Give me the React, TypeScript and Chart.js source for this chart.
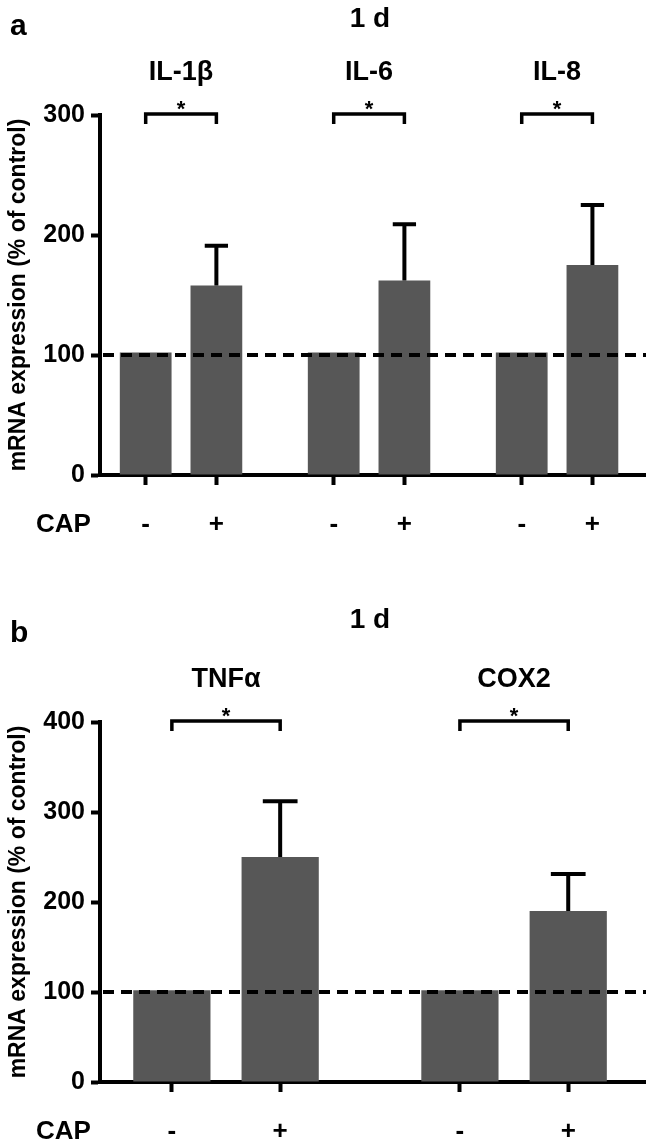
import React, { useEffect, useRef } from "react";
import { Chart, registerables } from "chart.js";

Chart.register(...registerables);

// ---------------- data ----------------
const yAxisTitle = "mRNA expression (% of control)";
const panelTitle = "1 d";
const treatmentLabel = "CAP";
const treatmentTicks = ["-", "+"];
const sigMark = "*";
const baselineValue = 100;

const lettersAB = ["a", "b"];

const genesA = ["IL-1β", "IL-6", "IL-8"];
const controlA = [102, 102, 102];
const capA = [158, 162, 175];
const capErrA = [33, 47, 50];
const yTicksA = [0, 100, 200, 300];

const genesB = ["TNFα", "COX2"];
const controlB = [102, 102];
const capB = [250, 190];
const capErrB = [62, 41];
const yTicksB = [0, 100, 200, 300, 400];

// ---------------- styling / layout ----------------
const FONT = "'Liberation Sans', Arial, Helvetica, sans-serif";
const BAR = "#575757";
const W = 646;
const AXIS_X = 100;
const OFFSET = 0.188;

type Panel = {
  letter: string;
  genes: string[];
  control: number[];
  cap: number[];
  capErr: number[];
  yTicks: number[];
  top: number;
  height: number;
  areaTop: number;
  areaBottom: number;
  xMin: number;
  xMax: number;
  barPct: number;
  titleBase: number;
  letterBase: number;
};

const panels: Panel[] = [
  {
    letter: lettersAB[0],
    genes: genesA,
    control: controlA,
    cap: capA,
    capErr: capErrA,
    yTicks: yTicksA,
    top: 0,
    height: 560,
    areaTop: 115,
    areaBottom: 475,
    xMin: -0.431,
    xMax: 2.473,
    barPct: 0.732,
    titleBase: 27,
    letterBase: 35,
  },
  {
    letter: lettersAB[1],
    genes: genesB,
    control: controlB,
    cap: capB,
    capErr: capErrB,
    yTicks: yTicksB,
    top: 560,
    height: 585,
    areaTop: 162,
    areaBottom: 522,
    xMin: -0.4375,
    xMax: 1.458,
    barPct: 0.713,
    titleBase: 68,
    letterBase: 82,
  },
];

function annotations(p: Panel) {
  return {
    id: "annot" + p.letter,
    afterDatasetsDraw(chart: any) {
      const ctx = chart.ctx;
      const y = chart.scales.y;
      const area = chart.chartArea;
      ctx.save();
      // baseline dashed line
      ctx.strokeStyle = "#000";
      ctx.lineWidth = 4;
      ctx.setLineDash([11, 7]);
      const yb = y.getPixelForValue(baselineValue);
      ctx.beginPath();
      ctx.moveTo(area.left + 3, yb);
      ctx.lineTo(area.right, yb);
      ctx.stroke();
      ctx.setLineDash([]);
      // error bars
      const meta = chart.getDatasetMeta(1);
      meta.data.forEach((bar: any, i: number) => {
        const topPx = y.getPixelForValue(p.cap[i] + p.capErr[i]);
        const half = bar.width * 0.225;
        ctx.lineWidth = 4;
        ctx.beginPath();
        ctx.moveTo(bar.x, bar.y);
        ctx.lineTo(bar.x, topPx);
        ctx.moveTo(bar.x - half, topPx);
        ctx.lineTo(bar.x + half, topPx);
        ctx.stroke();
      });
      ctx.restore();
    },
    afterDraw(chart: any) {
      const ctx = chart.ctx;
      const area = chart.chartArea;
      const m0 = chart.getDatasetMeta(0);
      const m1 = chart.getDatasetMeta(1);
      ctx.save();
      ctx.fillStyle = "#000";
      ctx.strokeStyle = "#000";
      p.genes.forEach((g, i) => {
        const x1 = m0.data[i].x;
        const x2 = m1.data[i].x;
        const yb = area.top - 1;
        ctx.lineWidth = 3.5;
        ctx.lineJoin = "miter";
        ctx.beginPath();
        ctx.moveTo(x1, yb + 10);
        ctx.lineTo(x1, yb);
        ctx.lineTo(x2, yb);
        ctx.lineTo(x2, yb + 10);
        ctx.stroke();
        ctx.textAlign = "center";
        ctx.textBaseline = "alphabetic";
        ctx.font = `bold 22px ${FONT}`;
        ctx.fillText(sigMark, (x1 + x2) / 2, yb + 2);
        ctx.font = `bold 27px ${FONT}`;
        ctx.fillText(g, (x1 + x2) / 2, area.top - 35);
      });
      // panel title
      ctx.font = `bold 28px ${FONT}`;
      ctx.textAlign = "center";
      ctx.fillText(panelTitle, 370, p.titleBase);
      // panel letter
      ctx.font = `bold 30px ${FONT}`;
      ctx.textAlign = "left";
      ctx.fillText(p.letter, 10, p.letterBase);
      // treatment row label
      ctx.font = `bold 26px ${FONT}`;
      ctx.textAlign = "left";
      ctx.textBaseline = "middle";
      ctx.fillText(treatmentLabel, 36, area.bottom + 50);
      // y axis title
      ctx.save();
      ctx.translate(19, (area.top + area.bottom) / 2);
      ctx.rotate(-Math.PI / 2);
      ctx.font = `bold 23px ${FONT}`;
      ctx.textAlign = "center";
      ctx.textBaseline = "middle";
      ctx.fillText(yAxisTitle, 0, 0);
      ctx.restore();
      ctx.restore();
    },
  };
}

function makeChart(canvas: HTMLCanvasElement, p: Panel) {
  const xTicks = p.genes.flatMap((_, i) => [i - OFFSET, i + OFFSET]);
  return new Chart(canvas, {
    type: "bar",
    data: {
      datasets: [
        {
          label: "control",
          data: p.control.map((v, i) => ({ x: i - OFFSET, y: v })),
          backgroundColor: BAR,
          grouped: false,
          categoryPercentage: 1,
          barPercentage: p.barPct,
        } as any,
        {
          label: treatmentLabel,
          data: p.cap.map((v, i) => ({ x: i + OFFSET, y: v })),
          backgroundColor: BAR,
          grouped: false,
          categoryPercentage: 1,
          barPercentage: p.barPct,
        } as any,
      ],
    },
    options: {
      responsive: false,
      animation: false,
      devicePixelRatio: 1,
      layout: { padding: { top: p.areaTop, left: 0, right: 0, bottom: 0 } },
      plugins: {
        legend: { display: false },
        tooltip: { enabled: false },
        title: { display: false },
      },
      scales: {
        x: {
          type: "linear",
          min: p.xMin,
          max: p.xMax,
          offset: false,
          afterBuildTicks: (s: any) => {
            s.ticks = xTicks.map((v) => ({ value: v }));
          },
          afterFit: (s: any) => {
            s.height = p.height - p.areaBottom;
          },
          ticks: {
            autoSkip: false,
            maxRotation: 0,
            minRotation: 0,
            padding: 24,
            color: "#000",
            font: { family: FONT, size: 26, weight: "bold" },
            callback: (_v: any, i: number) => treatmentTicks[i % 2],
          },
          grid: {
            offset: false,
            drawOnChartArea: false,
            drawTicks: true,
            tickLength: 10,
            tickWidth: 4,
            tickColor: "#000",
          },
          border: { display: true, color: "#000", width: 4 },
        },
        y: {
          type: "linear",
          min: 0,
          max: p.yTicks[p.yTicks.length - 1],
          afterBuildTicks: (s: any) => {
            s.ticks = p.yTicks.map((v) => ({ value: v }));
          },
          afterFit: (s: any) => {
            s.width = AXIS_X;
          },
          ticks: {
            padding: 6,
            color: "#000",
            font: { family: FONT, size: 25, weight: "bold" },
          },
          grid: {
            drawOnChartArea: false,
            drawTicks: true,
            tickLength: 9,
            tickWidth: 4,
            tickColor: "#000",
          },
          border: { display: true, color: "#000", width: 4 },
        },
      },
    } as any,
    plugins: [annotations(p)],
  });
}

function PanelChart({ p }: { p: Panel }) {
  const ref = useRef<HTMLCanvasElement | null>(null);
  useEffect(() => {
    if (!ref.current) return;
    const c = makeChart(ref.current, p);
    return () => c.destroy();
  }, [p]);
  return (
    <canvas
      ref={ref}
      width={W}
      height={p.height}
      style={{ position: "absolute", left: 0, top: p.top, width: W, height: p.height, display: "block" }}
    />
  );
}

export default function App() {
  return (
    <div
      style={{
        position: "absolute",
        left: 0,
        top: 0,
        width: W,
        height: 1145,
        overflow: "hidden",
        background: "#fff",
      }}
    >
      {panels.map((p) => (
        <PanelChart key={p.letter} p={p} />
      ))}
    </div>
  );
}
